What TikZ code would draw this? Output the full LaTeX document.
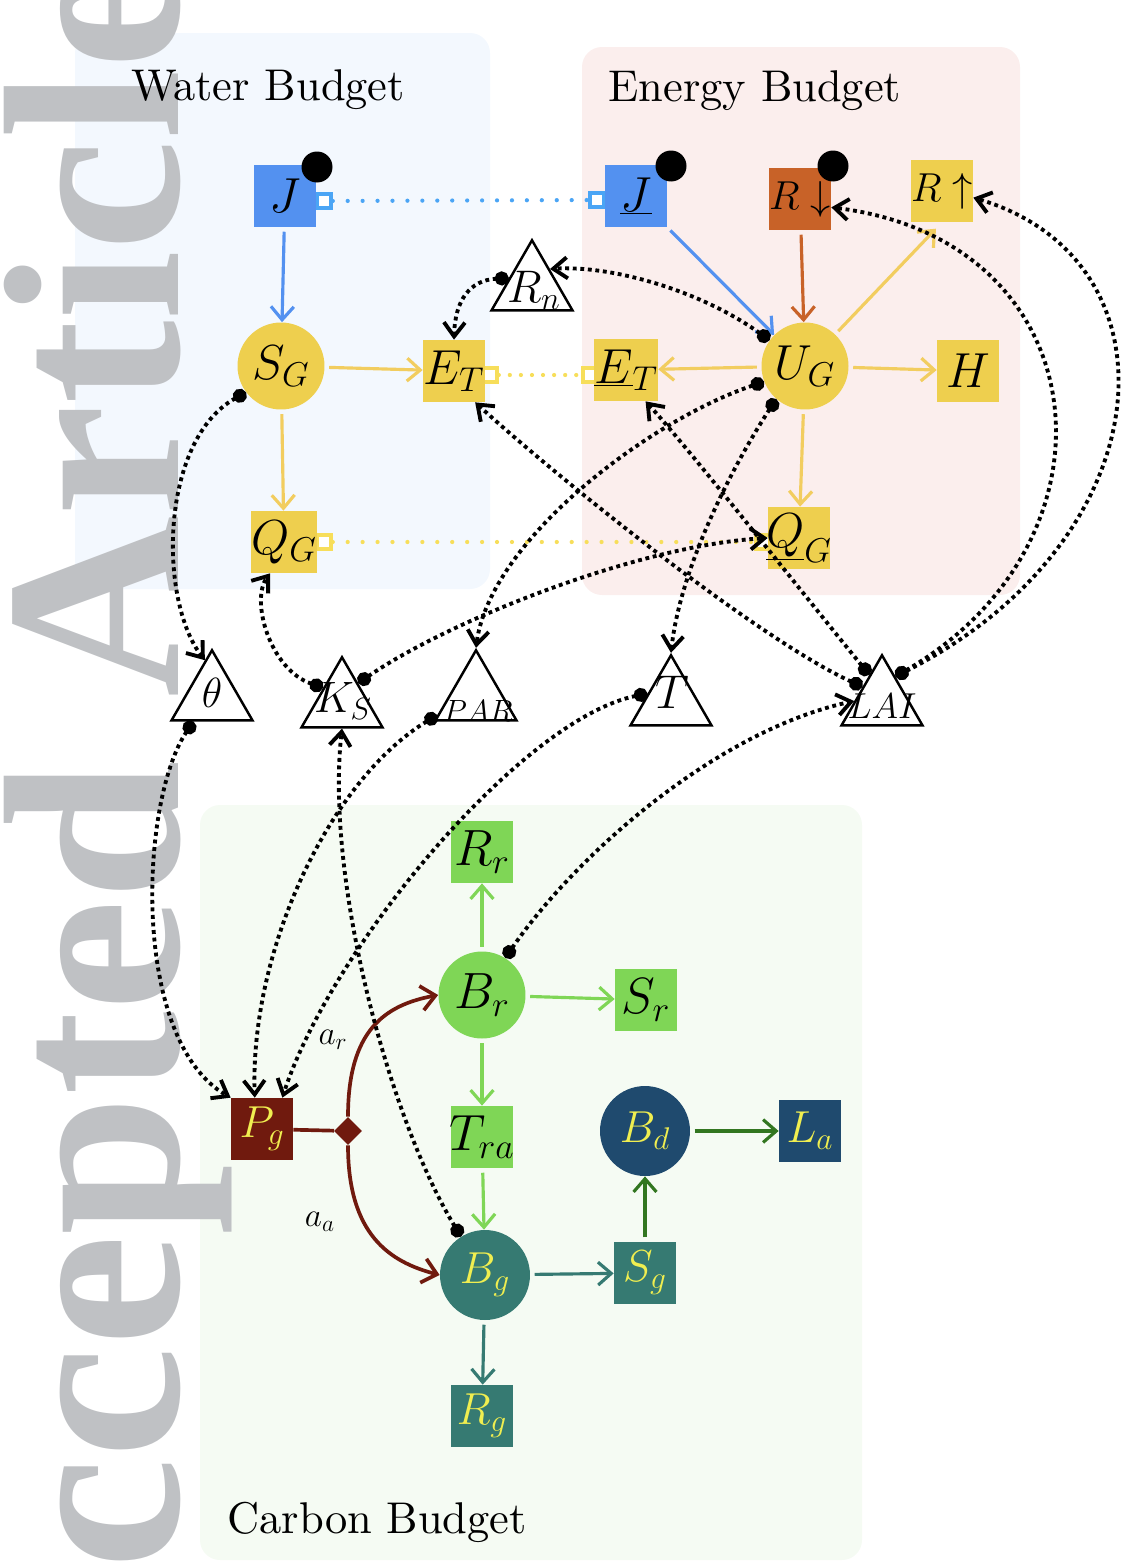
\RequirePackage{fix-cm}
\documentclass[tikz,border=0pt]{standalone}
\usepackage{fontspec}
\setmainfont{lmroman10-regular}[Extension=.otf, ItalicFont=lmroman10-italic]
\newfontfamily\stampfont{Liberation Serif}
\usetikzlibrary{arrows.meta,shapes.geometric}

\definecolor{wpanel}{RGB}{243,248,254}
\definecolor{epanel}{RGB}{251,238,237}
\definecolor{cpanel}{RGB}{245,251,243}
\definecolor{wmgray}{RGB}{191,193,196}
\definecolor{jblue}{RGB}{83,145,240}
\definecolor{portblue}{RGB}{75,165,245}
\definecolor{ylw}{RGB}{238,207,78}
\definecolor{ylwline}{RGB}{242,205,95}
\definecolor{portylw}{RGB}{247,222,90}
\definecolor{rorange}{RGB}{200,98,40}
\definecolor{lgreen}{RGB}{127,214,86}
\definecolor{cteal}{RGB}{54,122,114}
\definecolor{dblue}{RGB}{31,74,110}
\definecolor{dred}{RGB}{112,26,14}
\definecolor{dgreen}{RGB}{50,118,32}
\definecolor{ltext}{RGB}{240,238,80}

\newcommand\fsz[1]{\fontsize{#1}{#1}\selectfont}
\newcommand\nowidth[1]{\makebox[0pt]{#1}}

\begin{document}
\begin{tikzpicture}[x=0.02cm, y=-0.02cm,
  box/.style={rectangle, minimum size=1.24cm, inner sep=0pt, font=\fsz{28}},
  circ/.style={circle, minimum size=1.74cm, inner sep=0pt, font=\fsz{28}},
  gbox/.style={box, font=\fsz{29}},
  gcirc/.style={circ, font=\fsz{29}},
  dbox/.style={box, text=ltext, font=\fsz{25.5}},
  dcirc/.style={circ, minimum size=1.8cm, text=ltext, font=\fsz{25.5}},
  tri/.style={regular polygon, regular polygon sides=3, minimum size=1.87cm,
    draw, line width=1.4pt, fill=white, inner sep=0pt},
  trilabel/.style={inner sep=0pt, font=\fsz{#1}},
  port/.style={rectangle, minimum size=0.28cm, inner sep=0pt, fill=white, line width=2pt},
  bigdot/.style={circle, fill=black, minimum size=0.62cm, inner sep=0pt},
  flow/.style={line width=1.8pt, -{Straight Barb[length=7.5pt,width=13pt]}, shorten <=2.5pt},
  portline/.style={line width=2.4pt, line cap=round, dash pattern=on 0pt off #1},
  portline/.default=8.5pt,
  infl/.style={black, line width=2.2pt, dash pattern=on 2.2pt off 2.1pt,
    {Circle[length=8pt]}-{Straight Barb[length=8pt,width=12pt]}},
  title/.style={anchor=base west, inner sep=0pt, font=\fsz{25.3}}
]
\useasboundingbox (0,0) rectangle (1121,1562);

% budget panels
\fill[wpanel, rounded corners=0.4cm] (75,33) rectangle (490,589);
\fill[epanel, rounded corners=0.4cm] (582,47) rectangle (1020,595);
\fill[cpanel, rounded corners=0.4cm] (200,805) rectangle (862,1560);

% journal stamp
\node[rotate=90, anchor=base east, inner sep=0pt, text=wmgray,
  font=\stampfont\bfseries\fsz{143}] (stamp) at (178,-42) {Accepted Article};

% panel titles
\node[title] (wtitle) at (131,100) {Water Budget};
\node[title] (etitle) at (608,101) {Energy Budget};
\node[title] (ctitle) at (227,1533) {Carbon Budget};

% coupling ports
\node[port, draw=portblue] (Jwp) at (324,201) {};
\node[port, draw=portblue] (Jep) at (597,200) {};
\node[port, draw=portylw] (ETwp) at (490,375) {};
\node[port, draw=portylw] (ETep) at (590,375) {};
\node[port, draw=portylw] (QGwp) at (324,542) {};
\node[port, draw=portylw] (QGep) at (763,542) {};
\draw[portline, portblue] (Jwp) -- (Jep);
\draw[portline=6.3pt, portylw] (ETwp) -- (ETep);
\draw[portline, portylw] (QGwp) -- (QGep);

% water budget
\node[box, fill=jblue] (Jw) at (285,196) {$J$};
\node[circ, fill=ylw] (SGw) at (281,366) {$S_G$};
\node[box, fill=ylw] (ETw) at (454,371) {$E_T$};
\node[box, fill=ylw] (QGw) at (284,542) {$Q_G$};

% energy budget
\node[box, fill=jblue] (Je) at (636,196) {$\underline{J}$};
\node[box, fill=rorange, font=\fsz{23}] (Rdn) at (800,199) {$R\downarrow$};
\node[box, fill=ylw, font=\fsz{23}] (Rup) at (942,191) {$R\uparrow$};
\node[circ, fill=ylw] (UG) at (805,366) {$U_G$};
\node[box, fill=ylw] (ETe) at (626,370) {$\underline{E}_T$};
\node[box, fill=ylw] (H) at (968,371) {$H$};
\node[box, fill=ylw] (QGe) at (799,538) {\nowidth{$\underline{Q}_G$}};

% drivers
\node[bigdot] (JwDot) at (317,167) {};
\node[bigdot] (JeDot) at (671,166) {};
\node[bigdot] (RdnDot) at (833,166) {};

% shared state variables
\node[tri] (Rn) at (532,287) {};
\node[tri] (theta) at (212,697) {};
\node[tri] (KS) at (342,704) {};
\node[tri] (PAR) at (476,697) {};
\node[tri] (T) at (671,702) {};
\node[tri] (LAI) at (882,702) {};
\node[trilabel=26] (RnL) at (534,290) {$R_n$};
\node[trilabel=24] (thetaL) at (212,693) {$\theta$};
\node[trilabel=25] (KSL) at (343,701) {$K_S$};
\node[trilabel=17.5] (PARL) at (478,711) {$PAR$};
\node[trilabel=27] (TL) at (672,692) {$T$};
\node[trilabel=20.5] (LAIL) at (882,706) {$LAI$};

% carbon budget
\node[gbox, fill=lgreen] (Rr) at (482,852) {$R_r$};
\node[gcirc, fill=lgreen] (Br) at (482,995) {$B_r$};
\node[gbox, fill=lgreen] (Sr) at (646,1000) {$S_r$};
\node[gbox, fill=lgreen] (Tra) at (482,1137) {\nowidth{$T_{ra}$}};
\node[dbox, fill=dred] (Pg) at (262,1129) {$P_g$};
\node[diamond, fill=dred, minimum size=0.56cm, inner sep=0pt] (alloc) at (348,1131) {};
\node[dcirc, fill=cteal] (Bg) at (485,1275) {$B_g$};
\node[dbox, fill=cteal] (Sg) at (645,1273) {$S_g$};
\node[dcirc, fill=dblue] (Bd) at (645,1131) {$B_d$};
\node[dbox, fill=dblue] (La) at (810,1131) {$L_a$};
\node[dbox, fill=cteal] (Rg) at (482,1416) {$R_g$};

% water fluxes
\draw[flow, jblue] (Jw) -- (SGw);
\draw[flow, ylwline] (SGw) -- (ETw);
\draw[flow, ylwline] (SGw) -- (QGw);

% energy fluxes
\draw[flow, jblue] (Je.south east) -- (UG);
\draw[flow, rorange] (Rdn) -- (UG);
\draw[flow, ylwline, shorten >=5pt] (UG) -- (Rup.south);
\draw[flow, ylwline] (UG) -- (ETe);
\draw[flow, ylwline] (UG) -- (H);
\draw[flow, ylwline] (UG) -- (QGe);

% carbon fluxes
\draw[flow, lgreen] (Br) -- (Rr);
\draw[flow, lgreen] (Br) -- (Sr);
\draw[flow, lgreen] (Br) -- (Tra);
\draw[flow, lgreen] (Tra) -- (Bg);
\draw[flow, cteal] (Bg) -- (Sg);
\draw[flow, cteal] (Bg) -- (Rg);
\draw[flow, dgreen] (Sg) -- (Bd);
\draw[flow, dgreen] (Bd) -- (La);
\draw[dred, line width=2.1pt] (Pg) -- (alloc);
\draw[dred, line width=2.1pt, -{Straight Barb[length=8pt,width=14pt]}]
  (alloc.north) .. controls (348,1030) and (385,1005) .. (Br.west);
\draw[dred, line width=2.1pt, -{Straight Barb[length=8pt,width=14pt]}]
  (alloc.south) .. controls (348,1235) and (390,1262) .. (Bg.west);
\node[font=\fsz{19}, inner sep=0pt] (ar) at (333,1040) {$a_r$};
\node[font=\fsz{19}, inner sep=0pt] (aa) at (320,1222) {$a_a$};

% couplings between budgets
\draw[infl] (Rn.159) .. controls (470,280) and (455,300) .. (ETw.north);
\draw[infl] (UG.144) .. controls (700,290) and (610,265) .. (Rn.45);
\draw[infl] (SGw.217) .. controls (160,440) and (158,600) .. (theta.101);
\draw[infl] (theta.233) .. controls (140,800) and (130,1040) .. (Pg.north west);
\draw[infl] (KS.139) .. controls (270,670) and (250,600) .. (QGw.246);
\draw[infl] (KS.52) .. controls (450,620) and (640,545) .. (QGe.west);
\draw[infl] (UG.201) .. controls (650,420) and (490,540) .. (PAR.north);
\draw[infl] (UG.229) .. controls (730,470) and (680,570) .. (T.north);
\draw[infl] (LAI.142) .. controls (760,640) and (560,480) .. (ETw.304);
\draw[infl] (LAI.115) .. controls (800,590) and (690,450) .. (ETe.302);
\draw[infl] (LAI.62) .. controls (1130,540) and (1100,240) .. (Rdn.-15);
\draw[infl] (LAI.62) .. controls (1165,540) and (1185,260) .. (Rup.-12);
\draw[infl] (PAR.205) .. controls (330,780) and (250,950) .. (Pg.103);
\draw[infl] (T.160) .. controls (520,720) and (330,950) .. (Pg.57);
\draw[infl] (Bg.122) .. controls (390,1120) and (325,880) .. (KS.south);
\draw[infl] (Br.58) .. controls (580,850) and (720,730) .. (LAI.178);
\end{tikzpicture}
\end{document}
